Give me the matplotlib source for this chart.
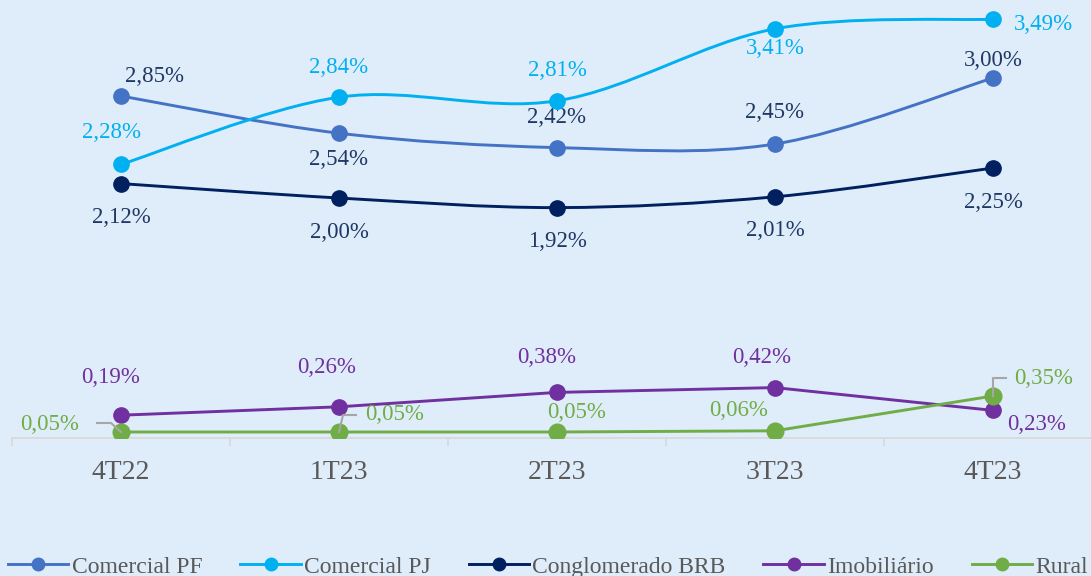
import matplotlib
matplotlib.use('Agg')
import matplotlib.pyplot as plt
from matplotlib.path import Path
from matplotlib.patches import PathPatch
from matplotlib.lines import Line2D

plt.rcParams['font.family'] = ['Liberation Serif', 'DejaVu Serif']

quarters = ['4T22', '1T23', '2T23', '3T23', '4T23']
comercial_pf = [2.85, 2.54, 2.42, 2.45, 3.00]
comercial_pj = [2.28, 2.84, 2.81, 3.41, 3.49]
conglomerado = [2.12, 2.00, 1.92, 2.01, 2.25]
imobiliario = [0.19, 0.26, 0.38, 0.42, 0.23]
rural = [0.05, 0.05, 0.05, 0.06, 0.35]

bg = '#DFECF9'
# name, values, line colour, label colour, smoothed, label offsets (px)
series = [
    ('Comercial PF', comercial_pf, '#4472C4', '#1F3864', True,
     [(34, 19), (0, -26), (0, 30), (0, 31), (0, 18)]),
    ('Comercial PJ', comercial_pj, '#00B0F0', '#00B0F0', True,
     [(-9, 32), (0, 30), (0, 30), (0, -20), (50, -5)]),
    ('Conglomerado BRB', conglomerado, '#002060', '#1F3864', True,
     [(0, -34), (0, -35), (0, -34), (0, -34), (0, -34)]),
    ('Imobiliário', imobiliario, '#7030A0', '#7030A0', False,
     [(-10, 38), (-12, 39), (-10, 35), (-13, 30), (44, -14)]),
    ('Rural', rural, '#70AD47', '#70AD47', False,
     [(-71, 8), (56, 18), (20, 19), (-36, 20), (51, 17)]),
]


def smooth_path(xs, ys):
    # cubic bezier through the points (excel-like smoothing)
    pts = list(zip(xs, ys))
    verts = [pts[0]]
    codes = [Path.MOVETO]
    n = len(pts)
    for i in range(n - 1):
        p0 = pts[i - 1] if i > 0 else pts[i]
        p1 = pts[i]
        p2 = pts[i + 1]
        p3 = pts[i + 2] if i + 2 < n else pts[i + 1]
        c1 = (p1[0] + (p2[0] - p0[0]) / 6, p1[1] + (p2[1] - p0[1]) / 6)
        c2 = (p2[0] - (p3[0] - p1[0]) / 6, p2[1] - (p3[1] - p1[1]) / 6)
        verts += [c1, c2, p2]
        codes += [Path.CURVE4] * 3
    return Path(verts, codes)


fig = plt.figure(figsize=(10.91, 5.76), dpi=100, facecolor=bg)
ax = fig.add_axes([12 / 1091, 138 / 576, 1090 / 1091, 438 / 576])
ax.set_facecolor(bg)
ax.set_xlim(-0.5, 4.5)
ax.set_ylim(0, 3.65)

x = list(range(len(quarters)))
handles = []
for name, vals, color, lcolor, smooth, offs in series:
    if smooth:
        ax.add_patch(PathPatch(smooth_path(x, vals), fill=False, edgecolor=color,
                               lw=2.1, zorder=2))
    else:
        ax.plot(x, vals, color=color, lw=2.1, zorder=2)
    ms = 12 if name == 'Rural' else 11
    ax.plot(x, vals, 'o', color=color, ms=ms, zorder=3)
    for xi, v, (dx, dy) in zip(x, vals, offs):
        ax.annotate(f'{v:.2f}%'.replace('.', ','), (xi, v), xytext=(dx, dy),
                    textcoords='offset pixels', ha='center', va='center',
                    color=lcolor, fontsize=16.5)
    handles.append(Line2D([], [], color=color, lw=2.1, marker='o', ms=9, label=name))

# leader lines for the rural labels
lead = dict(color='#A6A6A6', lw=1.5, zorder=4)
for xi, v, pts in [(0, rural[0], [(0, 0), (-10, 9), (-24, 9)]),
                   (1, rural[1], [(0, 0), (4, 17), (17, 17)]),
                   (4, rural[4], [(0, 0), (0, 18), (13, 18)])]:
    px, py = ax.transData.transform((xi, v))
    disp = [(px + a, py + b) for a, b in pts]
    dat = ax.transData.inverted().transform(disp)
    ax.plot(dat[:, 0], dat[:, 1], **lead)

ax.set_yticks([])
for s in ['left', 'right', 'top']:
    ax.spines[s].set_visible(False)
ax.spines['bottom'].set_color('#D9D9D9')
ax.spines['bottom'].set_linewidth(1.3)
ax.set_xticks(x)
ax.set_xticklabels(quarters)
ax.set_xticks([i - 0.5 for i in range(len(quarters) + 1)], minor=True)
ax.tick_params(axis='x', which='major', length=0, pad=16, labelsize=20,
               labelcolor='#595959')
ax.tick_params(axis='x', which='minor', length=6, color='#D9D9D9', width=1.3)

fig.legend(handles=handles, loc='center left', bbox_to_anchor=(0.0, 0.016),
           ncol=5, frameon=False, fontsize=17, labelcolor='#595959',
           handlelength=2.55, handletextpad=0.15, columnspacing=1.6,
           borderaxespad=0, borderpad=0.35)

fig.savefig('out.png', dpi=100, facecolor=bg)
